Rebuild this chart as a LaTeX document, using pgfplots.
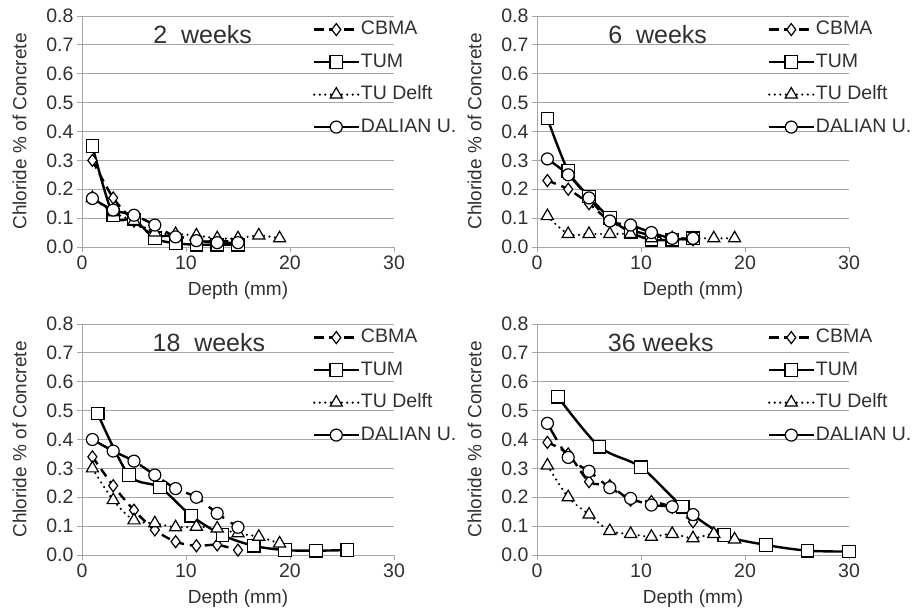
\documentclass[border=0pt]{standalone}
\usepackage{pgfplots}
\pgfplotsset{compat=1.18}
\usepackage{fontspec}
\setmainfont{Liberation Sans}
\newcommand\ticksize{\fontsize{19.5bp}{22bp}\selectfont}
\newcommand\labsize{\fontsize{19bp}{22bp}\selectfont}
\newcommand\legsize{\fontsize{19.5bp}{22bp}\selectfont}
\newcommand\titsize{\fontsize{25bp}{29bp}\selectfont}
\definecolor{txt}{HTML}{303030}
\definecolor{gridc}{HTML}{A6A6A6}
\pgfplotsset{
  panel/.style={
    scale only axis, width=312bp, height=231bp, anchor=south west,
    xmin=0, xmax=30, ymin=0, ymax=0.8,
    xtick={0,10,20,30}, ytick={0,0.1,0.2,0.3,0.4,0.5,0.6,0.7,0.8},
    yticklabel style={/pgf/number format/.cd,fixed,fixed zerofill,precision=1},
    /pgf/number format/assume math mode=true,
    axis x line=bottom, axis y line=left,
    axis line style={-, gridc, line width=0.9bp},
    ymajorgrids, grid style={gridc, line width=0.9bp},
    tick align=outside, major tick length=5bp, tick style={gridc, line width=0.9bp},
    tick label style={font=\ticksize, text=txt},
    xlabel={Depth (mm)}, ylabel={Chloride \% of Concrete},
    every axis x label/.style={at={(axis description cs:0.5,-0.19)}, anchor=center, font=\labsize, text=txt},
    every axis y label/.style={at={(axis description cs:-0.20,0.5)}, anchor=center, rotate=90, font=\labsize, text=txt},
    legend style={at={(axis cs:22.2,0.79)}, anchor=north west, draw=none, fill=none,
      font=\legsize, text=txt, inner sep=0pt, row sep=11.5bp,
      nodes={inner sep=1.5bp, text height=14bp, text depth=4bp}},
    legend cell align=left,
    legend image code/.code={\draw[mark repeat=2,mark phase=2] plot coordinates {(0bp,0bp) (22bp,0bp) (44bp,0bp)};},
    clip=false,
  },
  cbma/.style={black, line width=2.4bp, dash pattern=on 9bp off 6bp, smooth, tension=0.5,
    mark=diamond*, mark size=6bp, mark options={solid, fill=white, line width=1.2bp}},
  tum/.style={black, line width=2.4bp, solid, smooth, tension=0.5,
    mark=square*, mark size=6.3bp, mark options={solid, fill=white, line width=1.2bp}},
  delft/.style={black, line width=2.4bp, dash pattern=on 0bp off 5.5bp, line cap=round, smooth, tension=0.5,
    mark=triangle*, mark size=7bp, mark options={solid, fill=white, line width=1.2bp}},
  dalian/.style={black, line width=2.4bp, dash pattern=on 19bp off 8bp, smooth, tension=0.5,
    mark=*, mark size=6bp, mark options={solid, fill=white, line width=1.2bp}},
}
\begin{document}
\begin{tikzpicture}
\path[use as bounding box] (0,0) rectangle (916bp,613bp);
% ---------- 2 weeks
\begin{axis}[panel, at={(82bp,366bp)}]
\addplot[cbma] coordinates {(1,0.30)(3,0.17)(5,0.09)(7,0.04)(9,0.04)(11,0.02)(13,0.02)(15,0.02)};
\addlegendentry{CBMA}
\addplot[tum] coordinates {(1,0.35)(3,0.11)(5,0.095)(7,0.03)(9,0.013)(11,0.008)(13,0.008)(15,0.008)};
\addlegendentry{TUM}
\addplot[delft] coordinates {(1,0.17)(3,0.12)(5,0.09)(7,0.05)(9,0.045)(11,0.04)(13,0.03)(15,0.03)(17,0.04)(19,0.03)};
\addlegendentry{TU Delft}
\addplot[dalian] coordinates {(1,0.168)(3,0.128)(5,0.11)(7,0.076)(9,0.035)(11,0.022)(13,0.015)(15,0.015)};
\addlegendentry{DALIAN U.}
\node[font=\titsize, text=txt] at (axis cs:11.6,0.735) {2\ \ weeks};
\end{axis}
% ---------- 6 weeks
\begin{axis}[panel, at={(537bp,366bp)}]
\addplot[cbma] coordinates {(1,0.23)(3,0.20)(5,0.15)(7,0.09)(9,0.06)(11,0.04)(13,0.03)(15,0.025)};
\addlegendentry{CBMA}
\addplot[tum] coordinates {(1,0.445)(3,0.263)(5,0.175)(7,0.10)(9,0.05)(11,0.025)(13,0.025)(15,0.03)};
\addlegendentry{TUM}
\addplot[delft] coordinates {(1,0.107)(3,0.045)(5,0.045)(7,0.045)(9,0.045)(11,0.03)(13,0.03)(15,0.03)(17,0.03)(19,0.03)};
\addlegendentry{TU Delft}
\addplot[dalian] coordinates {(1,0.305)(3,0.25)(5,0.17)(7,0.09)(9,0.076)(11,0.05)(13,0.03)(15,0.03)};
\addlegendentry{DALIAN U.}
\node[font=\titsize, text=txt] at (axis cs:11.6,0.735) {6\ \ weeks};
\end{axis}
% ---------- 18 weeks
\begin{axis}[panel, at={(82bp,58bp)}]
\addplot[cbma] coordinates {(1,0.34)(3,0.24)(5,0.155)(7,0.087)(9,0.046)(11,0.032)(13,0.035)(15,0.017)};
\addlegendentry{CBMA}
\addplot[tum] coordinates {(1.5,0.49)(4.5,0.277)(7.5,0.234)(10.5,0.136)(13.5,0.069)(16.5,0.032)(19.5,0.017)(22.5,0.015)(25.5,0.017)};
\addlegendentry{TUM}
\addplot[delft] coordinates {(1,0.30)(3,0.19)(5,0.12)(7,0.11)(9,0.096)(11,0.098)(13,0.092)(15,0.075)(17,0.063)(19,0.04)};
\addlegendentry{TU Delft}
\addplot[dalian] coordinates {(1,0.40)(3,0.36)(5,0.325)(7,0.277)(9,0.23)(11,0.20)(13,0.144)(15,0.096)};
\addlegendentry{DALIAN U.}
\node[font=\titsize, text=txt] at (axis cs:12.2,0.735) {18\ \ weeks};
\end{axis}
% ---------- 36 weeks
\begin{axis}[panel, at={(537bp,58bp)}]
\addplot[cbma] coordinates {(1,0.39)(3,0.35)(5,0.254)(7,0.24)(9,0.19)(11,0.185)(13,0.165)(15,0.115)};
\addlegendentry{CBMA}
\addplot[tum] coordinates {(2,0.548)(6,0.375)(10,0.304)(14,0.167)(18,0.069)(22,0.035)(26,0.015)(30,0.012)};
\addlegendentry{TUM}
\addplot[delft] coordinates {(1,0.31)(3,0.20)(5,0.14)(7,0.083)(9,0.073)(11,0.063)(13,0.073)(15,0.058)(17,0.073)(19,0.054)};
\addlegendentry{TU Delft}
\addplot[dalian] coordinates {(1,0.456)(3,0.338)(5,0.29)(7,0.233)(9,0.196)(11,0.173)(13,0.167)(15,0.14)};
\addlegendentry{DALIAN U.}
\node[font=\titsize, text=txt] at (axis cs:11.9,0.735) {36 weeks};
\end{axis}
\end{tikzpicture}
\end{document}
